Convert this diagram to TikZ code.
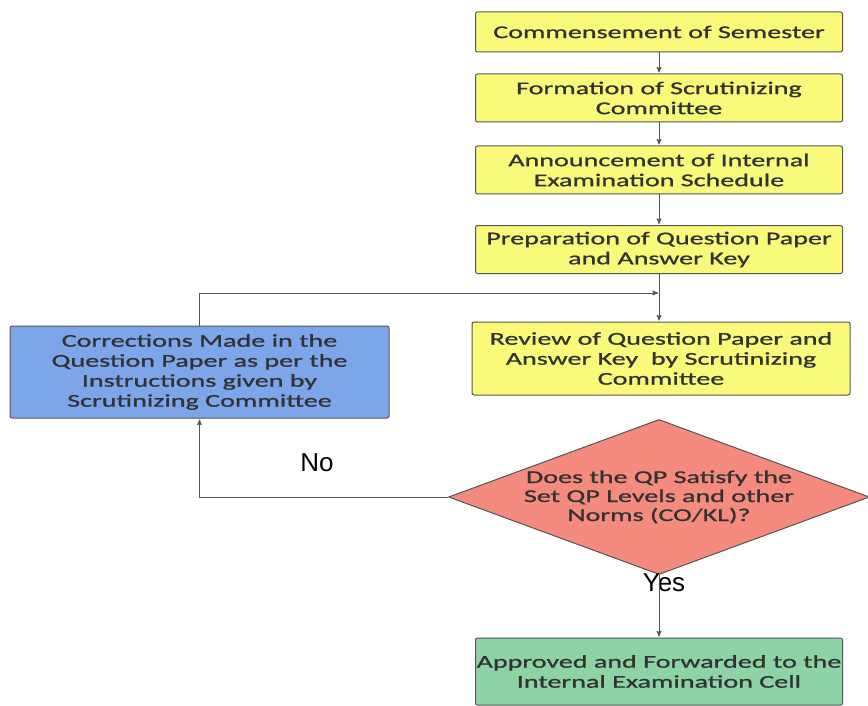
\documentclass[tikz,border=0pt]{standalone}
\usepackage{fontspec}
\newfontfamily\boxfont[FakeStretch=1.56,FakeBold=1]{Carlito}
\newfontfamily\labelfont{Liberation Sans}
\usetikzlibrary{arrows}
\usetikzlibrary{shapes.geometric}
\usetikzlibrary{positioning}
\definecolor{stepyellow}{RGB}{250,250,122}
\definecolor{fixblue}{RGB}{125,166,234}
\definecolor{checkred}{RGB}{245,138,126}
\definecolor{donegreen}{RGB}{140,212,166}
\definecolor{linegray}{RGB}{85,85,85}
\definecolor{textgray}{RGB}{50,50,50}

\begin{document}
\begin{tikzpicture}[x=1pt,y=-1pt,->,>=stealth',shorten >=1pt,line width=1pt,draw=linegray,
    step node/.style={rectangle,rounded corners=2pt,draw=linegray,fill=stepyellow,minimum width=367pt,align=center,inner sep=1pt,font=\boxfont\fontsize{18}{20}\selectfont,text=textgray},
    fix node/.style={step node,fill=fixblue,minimum width=379pt,minimum height=92pt},
    done node/.style={step node,fill=donegreen},
    check node/.style={diamond,draw=linegray,fill=checkred,aspect=2.7,inner sep=0pt,minimum width=421pt,minimum height=155pt,align=center,font=\boxfont\fontsize{18}{19}\selectfont,text=textgray},
    label node/.style={font=\labelfont\fontsize{26}{28}\selectfont,text=black}]
  \useasboundingbox (0,0) rectangle (868,706);
  \begin{scope}
    \node[step node,minimum height=40pt] (start) at (659,32) {Commensement of Semester};
    \node[step node,minimum height=48pt] (form) at (659,98) {Formation of Scrutinizing\\Committee};
    \node[step node,minimum height=48pt] (announce) at (659,170) {Announcement of Internal\\Examination Schedule};
    \node[step node,minimum height=48pt] (prep) at (659,249.5) {Preparation of Question Paper\\and Answer Key};
    \node[step node,minimum width=378pt,minimum height=73pt] (review) at (661,358.5) {Review of Question Paper and\\Answer Key\ \ by Scrutinizing\\Committee};
    \node[check node] (check) at (659,497) {Does the QP Satisfy the\\Set QP Levels and other\\Norms (CO/KL)?};
    \node[fix node] (fix) at (199.5,372) {Corrections Made in the\\Question Paper as per the\\Instructions given by\\Scrutinizing Committee};
    \node[done node,minimum height=67pt] (approve) at (659,671.5) {Approved and Forwarded to the\\Internal Examination Cell};
    \coordinate (join) at (659,293);
    \node[label node] (no) at (317,463) {No};
    \node[label node] (yes) at (664,583) {Yes};
    % main line
    \path (start) edge (form);
    \path (form) edge (announce);
    \path (announce) edge (prep);
    \path (prep.south) edge (prep.south |- review.north);
    \path (check) edge (approve);
    % loop back for corrections
    \draw (check.west) -| (fix.south);
    \draw (fix.north) |- (join);
  \end{scope}
\end{tikzpicture}
\end{document}
